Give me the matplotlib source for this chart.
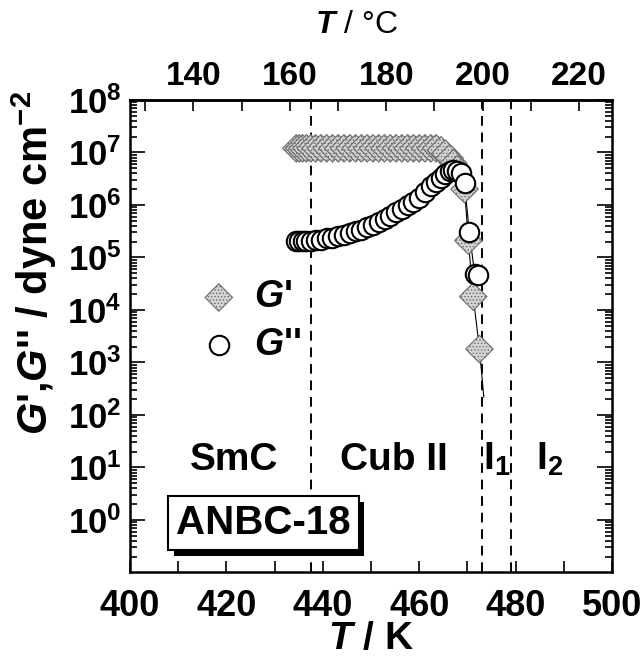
import numpy as np
import matplotlib
matplotlib.use("Agg")
import matplotlib.pyplot as plt
import matplotlib.patheffects as pe
from matplotlib.ticker import MultipleLocator, FixedLocator, LogLocator, NullFormatter

plt.rcParams.update({
    'font.family': 'Liberation Sans',
    'font.weight': 'bold',
    'axes.labelweight': 'bold',
    'mathtext.fontset': 'custom',
    'mathtext.rm': 'Liberation Sans',
    'mathtext.it': 'Liberation Sans:italic:bold',
    'mathtext.bf': 'Liberation Sans:bold',
    'hatch.linewidth': 0.6,
})

# temperatures (K) of the heating run
T_main = [434.5, 435.1, 435.8, 436.6, 437.5, 438.5, 439.6, 440.8, 442.0, 443.2,
          444.4, 445.6, 446.8, 448.0, 449.2, 450.4, 451.6, 452.8, 454.0, 455.2,
          456.4, 457.6, 458.8, 460.0, 461.2, 462.4, 463.5, 464.5, 465.4, 466.3,
          467.1, 467.9]

# storage modulus G' (dyne/cm^2)
Gp_main = [1.2e7, 1.2e7, 1.2e7, 1.2e7, 1.2e7, 1.2e7, 1.2e7, 1.2e7, 1.2e7, 1.2e7,
           1.2e7, 1.2e7, 1.2e7, 1.2e7, 1.2e7, 1.2e7, 1.2e7, 1.2e7, 1.2e7, 1.2e7,
           1.2e7, 1.2e7, 1.2e7, 1.2e7, 1.2e7, 1.2e7, 1.2e7, 1.1e7, 9.5e6, 7.8e6,
           6.2e6, 4.8e6]
T_gp_tail = [469.4, 470.2, 471.2, 472.5]
Gp_tail = [2.0e6, 2.1e5, 1.8e4, 1.8e3]
# guide line for G' through the melt, runs a bit past the last point
T_gp_line = [467.9, 469.4, 470.2, 471.2, 472.5, 473.4]
Gp_line = [4.8e6, 2.0e6, 2.1e5, 1.8e4, 1.8e3, 2.2e2]

# loss modulus G'' (dyne/cm^2)
Gpp_main = [2.1e5, 2.1e5, 2.1e5, 2.1e5, 2.1e5, 2.15e5, 2.2e5, 2.3e5, 2.4e5, 2.55e5,
            2.7e5, 2.9e5, 3.15e5, 3.4e5, 3.8e5, 4.2e5, 4.8e5, 5.5e5, 6.3e5, 7.3e5,
            8.5e5, 1.0e6, 1.15e6, 1.35e6, 1.8e6, 2.3e6, 2.8e6, 3.3e6, 3.9e6, 4.4e6,
            4.6e6, 4.5e6]
T_gpp_tail = [468.6, 469.4, 470.4, 471.5, 472.3]
Gpp_tail = [4.0e6, 2.6e6, 3.0e5, 4.9e4, 4.6e4]

# phase boundaries (K) and phase names
transitions = [437.5, 473.0, 479.0]
phase_names = ['SmC', 'Cub II', 'I$_{1}$', 'I$_{2}$']
phase_pos = [421.5, 454.8, 476.0, 487.0]

# Celsius ticks for the top axis
celsius_major = [140, 160, 180, 200, 220]
celsius_minor = [130, 150, 170, 190, 210]

T_all_gp = T_main + T_gp_tail
Gp_all = Gp_main + Gp_tail
T_all_gpp = T_main + T_gpp_tail
Gpp_all = Gpp_main + Gpp_tail

fig = plt.figure(figsize=(6.43, 6.56), dpi=100)
ax = fig.add_axes([0.2022, 0.1273, 0.7496, 0.7203])

for t in transitions:
    ax.axvline(t, color='black', lw=1.4, ls=(0, (5, 3.5)), zorder=1)

ax.plot(T_gp_line, Gp_line, color='black', lw=0.8, zorder=2)
ax.plot(T_all_gpp[-6:], Gpp_all[-6:], color='black', lw=0.8, zorder=2)

gp = ax.scatter(T_all_gp, Gp_all, marker='D', s=14**2, facecolor='#d4d4d4',
                edgecolor='#6a6a6a', linewidths=0.8, hatch='.....', zorder=3,
                label="$G$'")
gpp = ax.scatter(T_all_gpp, Gpp_all, marker='o', s=14**2, facecolor='white',
                 edgecolor='black', linewidths=1.5, zorder=4, label="$G$''")

ax.set_yscale('log')
ax.set_xlim(400, 500)
ax.set_ylim(1e-1, 1e8)

ax.xaxis.set_major_locator(MultipleLocator(20))
ax.xaxis.set_minor_locator(MultipleLocator(10))
ax.set_yticks([10.0**k for k in range(0, 9)])
ax.set_yticklabels([r'$\mathbf{10^{%d}}$' % k for k in range(0, 9)])
ax.yaxis.set_minor_locator(LogLocator(base=10, subs=np.arange(2, 10), numticks=20))
ax.yaxis.set_minor_formatter(NullFormatter())

ax.tick_params(axis='both', which='both', direction='in', width=1.2)
ax.tick_params(axis='x', which='both', length=8, top=False, labelsize=26, pad=12)
ax.tick_params(axis='y', which='major', length=11, right=True, labelsize=25, pad=6)
ax.tick_params(axis='y', which='minor', length=5, right=True)
for sp in ax.spines.values():
    sp.set_linewidth(1.8)

ax.set_xlabel('$T$ / K', fontsize=28, labelpad=-2)
ax.set_ylabel("$G$',$G$'' / dyne cm$^{\\mathbf{-2}}$", fontsize=30)
ax.yaxis.set_label_coords(-0.148, 0.655)

# Celsius scale on top
top = ax.secondary_xaxis('top', functions=(lambda k: k - 273.15, lambda c: c + 273.15))
top.xaxis.set_major_locator(FixedLocator(celsius_major))
top.xaxis.set_minor_locator(FixedLocator(celsius_minor))
top.tick_params(axis='x', which='both', direction='in', length=8, width=1.2,
                labelsize=24, pad=6)
top.spines['top'].set_linewidth(1.8)
top.set_xlabel('$T$ / °C', fontsize=23, fontweight='normal')
top.xaxis.set_label_coords(0.469, 1.142, transform=ax.transAxes)

for name, xpos in zip(phase_names, phase_pos):
    ax.text(xpos, 10.0**1.15, name, fontsize=28, ha='center', va='center')

leg = ax.legend(handles=[gp, gpp], loc='upper left', bbox_to_anchor=(0.083, 0.676),
                frameon=False, scatterpoints=1, fontsize=27, handletextpad=0.35,
                labelspacing=0.3, borderpad=0.2, handlelength=1.2)

# sample name box with drop shadow
name_box = ax.text(0.277, 0.104, 'ANBC-18', transform=ax.transAxes, fontsize=29,
                   ha='center', va='center', zorder=6,
                   bbox=dict(boxstyle='square,pad=0.2', facecolor='white',
                             edgecolor='black', lw=1.5))
name_box.get_bbox_patch().set_path_effects([
    pe.SimplePatchShadow(offset=(4, -4), shadow_rgbFace='black', alpha=1.0),
    pe.Normal()])

fig.savefig('out.png', dpi=100)
